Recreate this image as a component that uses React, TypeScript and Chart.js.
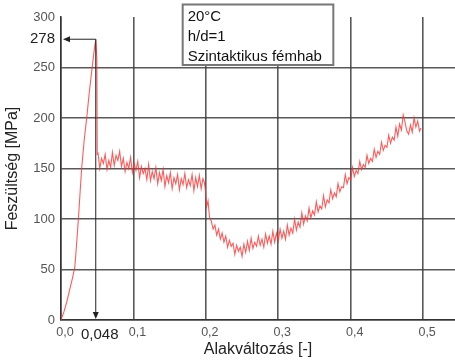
import React, { useEffect, useRef } from "react";
import { Chart, registerables } from "chart.js";

Chart.register(...registerables);

// ---- data ----
const strainRise = [0, 0.004, 0.008, 0.012, 0.016, 0.019, 0.021, 0.024, 0.0285, 0.032, 0.0355, 0.039, 0.043, 0.046, 0.048, 0.0495, 0.05];
const stressRise = [0, 8, 18, 30, 42, 52, 70, 100, 150, 178, 200, 225, 250, 268, 278, 259, 164];

const strainPlateau = [
  0.0510, 0.0535, 0.0560, 0.0585, 0.0610, 0.0635, 0.0660, 0.0685, 0.0710, 0.0735,
  0.0760, 0.0785, 0.0810, 0.0835, 0.0860, 0.0885, 0.0910, 0.0935, 0.0960, 0.0985,
  0.1010, 0.1035, 0.1060, 0.1085, 0.1110, 0.1135, 0.1160, 0.1185, 0.1210, 0.1235,
  0.1260, 0.1285, 0.1310, 0.1335, 0.1360, 0.1385, 0.1410, 0.1435, 0.1460, 0.1485,
  0.1510, 0.1535, 0.1560, 0.1585, 0.1610, 0.1635, 0.1660, 0.1685, 0.1710, 0.1735,
  0.1760, 0.1785, 0.1810, 0.1835, 0.1860, 0.1885, 0.1910, 0.1935, 0.1960, 0.1980,
];
const stressPlateau = [
  166, 150, 160, 155, 164, 149, 158, 151, 166, 153,
  163, 158, 167, 152, 160, 147, 156, 150, 161, 146,
  155, 148, 157, 141, 152, 145, 150, 139, 154, 138,
  147, 140, 151, 135, 146, 138, 149, 132, 143, 136,
  146, 130, 141, 135, 144, 129, 140, 134, 145, 131,
  139, 133, 144, 128, 141, 132, 143, 130, 140, 136,
];

const strainValley = [
  0.1995, 0.2010, 0.2030, 0.2050, 0.2075, 0.2100, 0.2125, 0.2150, 0.2175, 0.2200,
  0.2225, 0.2250, 0.2275, 0.2300, 0.2325, 0.2350, 0.2375, 0.2400, 0.2425, 0.2450,
  0.2475, 0.2500, 0.2525, 0.2550, 0.2575, 0.2600, 0.2625, 0.2650, 0.2675, 0.2700,
  0.2725, 0.2750, 0.2775, 0.2800, 0.2825, 0.2850, 0.2875, 0.2900, 0.2925, 0.2950,
  0.2975,
];
const stressValley = [
  128, 112, 118, 102, 98, 90, 94, 84, 90, 80,
  86, 77, 83, 72, 79, 73, 76, 65, 74, 68,
  72, 63, 75, 67, 78, 69, 81, 71, 77, 73,
  83, 74, 80, 72, 85, 76, 83, 75, 88, 77,
  86,
];

const strainHardening = [
  0.3000, 0.3025, 0.3050, 0.3075, 0.3100, 0.3125, 0.3150, 0.3175, 0.3200, 0.3225,
  0.3250, 0.3275, 0.3300, 0.3325, 0.3350, 0.3375, 0.3400, 0.3425, 0.3450, 0.3475,
  0.3500, 0.3525, 0.3550, 0.3575, 0.3600, 0.3625, 0.3650, 0.3675, 0.3700, 0.3725,
  0.3750, 0.3775, 0.3800, 0.3825, 0.3850, 0.3875, 0.3900, 0.3925, 0.3950, 0.3975,
  0.4000, 0.4025, 0.4050, 0.4075, 0.4100, 0.4125, 0.4150, 0.4175, 0.4200, 0.4225,
  0.4250, 0.4275, 0.4300, 0.4325, 0.4350, 0.4375, 0.4400, 0.4425, 0.4450, 0.4475,
  0.4500, 0.4525, 0.4550, 0.4575, 0.4600, 0.4625, 0.4650, 0.4675, 0.4700, 0.4725,
  0.4750, 0.4775, 0.4800, 0.4825, 0.4850, 0.4875, 0.4900, 0.4925, 0.4950, 0.4970,
];
const stressHardening = [
  78, 90, 81, 88, 80, 94, 84, 91, 86, 100,
  89, 97, 92, 106, 95, 103, 98, 111, 101, 108,
  104, 117, 107, 113, 110, 123, 112, 119, 116, 129,
  120, 126, 122, 135, 127, 132, 131, 144, 135, 141,
  139, 151, 142, 148, 145, 157, 149, 154, 151, 163,
  155, 160, 157, 169, 161, 167, 164, 176, 168, 173,
  171, 183, 175, 181, 178, 191, 182, 194, 188, 203,
  196, 187, 184, 193, 186, 200, 191, 197, 187, 190,
];

const peakStrain = 0.048;
const peakStress = 278;
const peakStrainLabel = "0,048";
const peakStressLabel = "278";
const infoLines = ["20°C", "h/d=1", "Szintaktikus fémhab"];
const xTitle = "Alakváltozás [-]";
const yTitle = "Feszültség [MPa]";

const FONT = "'Liberation Sans', Arial, sans-serif";

function toPoints(xs: number[], ys: number[]) {
  return xs.map((x, i) => ({ x, y: ys[i] }));
}

const annotationPlugin = {
  id: "annot",
  afterDraw(chart: any) {
    const { ctx, scales } = chart;
    const xs = scales.x;
    const ys = scales.y;
    const px = xs.getPixelForValue(peakStrain);
    const py = ys.getPixelForValue(peakStress);
    const x0 = xs.getPixelForValue(0);
    const y0 = ys.getPixelForValue(0);
    ctx.save();
    // arrow lines
    ctx.strokeStyle = "#222";
    ctx.fillStyle = "#222";
    ctx.lineWidth = 1;
    ctx.beginPath();
    ctx.moveTo(px, py);
    ctx.lineTo(x0 + 8, py);
    ctx.moveTo(px, py);
    ctx.lineTo(px, y0 - 8);
    ctx.stroke();
    // left arrow head
    ctx.beginPath();
    ctx.moveTo(x0 + 2, py);
    ctx.lineTo(x0 + 9, py - 3);
    ctx.lineTo(x0 + 9, py + 3);
    ctx.closePath();
    ctx.fill();
    // down arrow head
    ctx.beginPath();
    ctx.moveTo(px, y0 - 1);
    ctx.lineTo(px - 3, y0 - 8);
    ctx.lineTo(px + 3, y0 - 8);
    ctx.closePath();
    ctx.fill();
    // special labels
    ctx.fillStyle = "#222";
    ctx.font = `15px ${FONT}`;
    ctx.textBaseline = "middle";
    ctx.textAlign = "right";
    ctx.fillText(peakStressLabel, x0 - 6, py);
    ctx.textAlign = "center";
    ctx.fillText(peakStrainLabel, px + 4, y0 + 15);
    // info box
    const bx1 = xs.getPixelForValue(0.168);
    const bx2 = xs.getPixelForValue(0.376);
    const by1 = 4.5;
    const by2 = 65;
    ctx.fillStyle = "#fff";
    ctx.fillRect(bx1, by1, bx2 - bx1, by2 - by1);
    ctx.strokeStyle = "#777";
    ctx.lineWidth = 2;
    ctx.strokeRect(bx1, by1, bx2 - bx1, by2 - by1);
    ctx.fillStyle = "#111";
    ctx.font = `15px ${FONT}`;
    ctx.textAlign = "left";
    ctx.textBaseline = "middle";
    infoLines.forEach((t, i) => ctx.fillText(t, bx1 + 5, 17 + i * 20));
    ctx.restore();
  },
};

export default function App() {
  const ref = useRef<HTMLCanvasElement>(null);
  useEffect(() => {
    if (!ref.current) return;
    const data = [
      ...toPoints(strainRise, stressRise),
      ...toPoints(strainPlateau, stressPlateau),
      ...toPoints(strainValley, stressValley),
      ...toPoints(strainHardening, stressHardening),
    ];
    const gridColor = "rgba(60,60,60,0.85)";
    const chart = new Chart(ref.current, {
      type: "line",
      data: {
        datasets: [
          {
            data,
            borderColor: "rgba(255,50,50,0.8)",
            borderWidth: 1.1,
            pointRadius: 0,
            tension: 0,
            fill: false,
          },
        ],
      },
      options: {
        animation: false,
        responsive: false,
        layout: { padding: { top: 17, right: 0, left: 0, bottom: 0 } },
        plugins: { legend: { display: false }, tooltip: { enabled: false } },
        scales: {
          x: {
            type: "linear",
            min: 0,
            max: 0.544,
            afterFit: (s: any) => {
              s.height = 42;
            },
            border: { color: "#333", width: 1.5 },
            grid: { color: gridColor, lineWidth: 1.6, drawTicks: false },
            ticks: {
              stepSize: 0.1,
              includeBounds: false,
              padding: 5,
              labelOffset: 4,
              color: "#555",
              font: { family: FONT, size: 12.5 },
              callback: (v: any) => Number(v).toFixed(1).replace(".", ","),
            },
            title: {
              display: true,
              text: xTitle,
              color: "#222",
              font: { family: FONT, size: 16 },
              padding: { top: 0, bottom: 3 },
            },
          },
          y: {
            type: "linear",
            min: 0,
            max: 300,
            afterFit: (s: any) => {
              s.width = 61;
            },
            border: { color: "#333", width: 1.5 },
            grid: {
              color: (c: any) => (c.tick && c.tick.value === 300 ? "rgba(0,0,0,0)" : gridColor),
              lineWidth: 1.6,
              drawTicks: false,
            },
            ticks: {
              stepSize: 50,
              padding: 6,
              color: "#555",
              font: { family: FONT, size: 13 },
            },
            title: {
              display: true,
              text: yTitle,
              color: "#222",
              font: { family: FONT, size: 16 },
              padding: { top: 3, bottom: 0 },
            },
          },
        },
      },
      plugins: [annotationPlugin],
    });
    return () => chart.destroy();
  }, []);
  return (
    <div style={{ position: "absolute", left: 0, top: 0, width: 455, height: 362, background: "#fff" }}>
      <canvas ref={ref} width={455} height={362} />
    </div>
  );
}
